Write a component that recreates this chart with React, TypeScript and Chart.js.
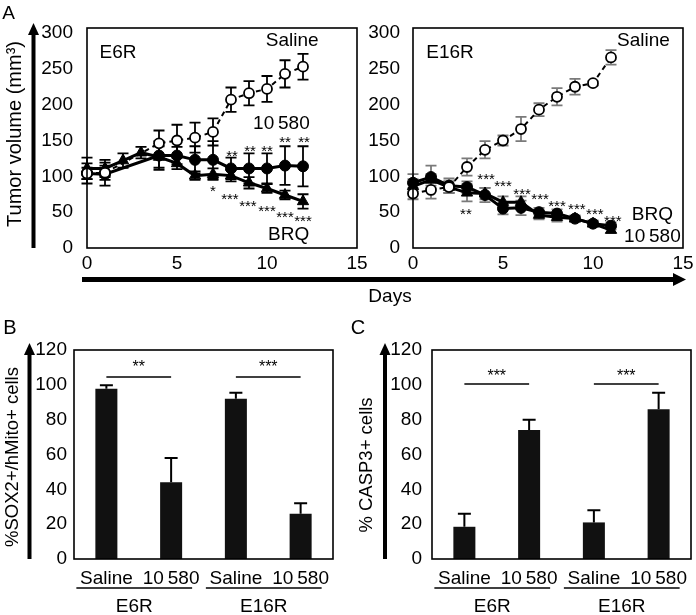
import React, { useEffect, useRef } from "react";
import { Chart, registerables } from "chart.js";

Chart.register(...registerables);

const FONT = '"Liberation Sans", Arial, Helvetica, sans-serif';

// ---------------- Panel A : E6R ----------------
const e6rDays = [0, 1, 4, 5, 6, 7, 8, 9, 10, 11, 12];
const e6rBrqDays = [0, 1, 2, 3, 4, 5, 6, 7, 8, 9, 10, 11, 12];
const e6rSaline = [104, 105, 146, 150, 154, 162, 207, 216, 222, 243, 253];
const e6rSalineErr = [8, 10, 18, 22, 21, 19, 17, 17, 18, 19, 18];
const e6r10580 = [104, 103, 129, 129, 123, 123, 111, 111, 111, 115, 114];
const e6r10580Err = [14, 16, 20, 12, 19, 26, 15, 21, 21, 27, 28];
const e6rBrq = [111, 111, 122, 133, 127, 118, 101, 103, 101, 91, 83, 74, 65];
const e6rBrqErr = [15, 12, 10, 8, 15, 8, 6, 8, 8, 8, 6, 6, 10];

// ---------------- Panel A : E16R ----------------
const e16rDays = [0, 1, 2, 3, 4, 5, 6, 7, 8, 9, 10, 11];
const e16rSaline = [76, 81, 85, 113, 137, 150, 166, 193, 211, 225, 230, 266];
const e16rSalineErr = [8, 12, 8, 12, 12, 7, 17, 9, 12, 11, 3, 10];
const e16r10580 = [91, 99, 87, 85, 74, 55, 56, 50, 48, 41, 34, 31];
const e16r10580Err = [12, 16, 10, 8, 10, 8, 10, 6, 6, 4, 4, 5];
const e16rBrq = [86, 95, 85, 77, 76, 64, 64, 46, 43, 41, 34, 25];
const e16rBrqErr = [10, 8, 8, 12, 8, 8, 8, 6, 6, 4, 4, 4];

// ---------------- Axis ticks ----------------
const dayTicksMax = 15;
const volumeMax = 307;
const percentMax = 120;

// ---------------- Panel B / C ----------------
const barLabels = ["Saline", "10\u2009580", "Saline", "10\u2009580"];
const groupLabels = ["E6R", "E16R"];
const sox2Values = [97.7, 44, 92, 26];
const sox2Err = [2, 14, 3.5, 6];
const casp3Values = [18.5, 74, 21, 86];
const casp3Err = [7.5, 6, 7, 9.5];

// ---------------- Annotations (data units) ----------------
const e6rTexts = [
  { x: 1.72, y: 273, t: "E6R" },
  { x: 11.4, y: 289, t: "Saline" },
  { x: 10.8, y: 174, t: "10\u2009580" },
  { x: 11.2, y: 18, t: "BRQ" },
];
const e6rStars = [
  { x: 8.06, y: 134, t: "**" },
  { x: 9.06, y: 141, t: "**" },
  { x: 10, y: 141, t: "**" },
  { x: 11, y: 153, t: "**" },
  { x: 12.06, y: 153, t: "**" },
  { x: 7, y: 85, t: "*" },
  { x: 7.94, y: 74, t: "***" },
  { x: 8.94, y: 64, t: "***" },
  { x: 10, y: 57, t: "***" },
  { x: 11, y: 49, t: "***" },
  { x: 12, y: 43, t: "***" },
];
const e16rTexts = [
  { x: 2.06, y: 273, t: "E16R" },
  { x: 12.8, y: 289, t: "Saline" },
  { x: 13.3, y: 46, t: "BRQ" },
  { x: 13.3, y: 15, t: "10\u2009580" },
];
const e16rStars = [
  { x: 4.06, y: 102, t: "***" },
  { x: 5, y: 91, t: "***" },
  { x: 6.06, y: 80, t: "***" },
  { x: 7.06, y: 74, t: "***" },
  { x: 8, y: 64, t: "***" },
  { x: 9.1, y: 59, t: "***" },
  { x: 10.1, y: 52, t: "***" },
  { x: 11.1, y: 43, t: "***" },
  { x: 2.94, y: 53, t: "**" },
];
const sox2Sig = [
  { from: 0, to: 1, y: 104.5, ty: 112.5, t: "**" },
  { from: 2, to: 3, y: 104.5, ty: 112.5, t: "***" },
];
const casp3Sig = [
  { from: 0, to: 1, y: 100.5, ty: 107.5, t: "***" },
  { from: 2, to: 3, y: 100.5, ty: 107.5, t: "***" },
];

const pts = (days: number[], vals: number[]) => days.map((d, i) => ({ x: d, y: vals[i] }));

const decoPlugin = {
  id: "deco",
  beforeDatasetsDraw(chart: any) {
    const o = chart.options.plugins.deco;
    if (!o.errorsBefore) return;
    drawErrors(chart, o);
  },
  afterDatasetsDraw(chart: any) {
    const o = chart.options.plugins.deco;
    if (o.errorsBefore) return;
    drawErrors(chart, o);
  },
  afterDraw(chart: any) {
    const o = chart.options.plugins.deco;
    const ctx = chart.ctx;
    const { left, right, top, bottom } = chart.chartArea;
    const xs = chart.scales.x;
    const ys = chart.scales.y;
    ctx.save();
    // frame
    ctx.strokeStyle = "#000";
    ctx.lineWidth = 1.6;
    ctx.strokeRect(left, top, right - left, bottom - top);
    // text annotations
    ctx.fillStyle = "#000";
    (o.texts || []).forEach((a: any) => {
      ctx.font = `${o.textSize || 19}px ${FONT}`;
      ctx.textAlign = "center";
      ctx.textBaseline = "middle";
      ctx.fillText(a.t, xs.getPixelForValue(a.x), ys.getPixelForValue(a.y));
    });
    (o.stars || []).forEach((a: any) => {
      const s = o.starSize || 15;
      ctx.font = `${s}px ${FONT}`;
      ctx.textAlign = "center";
      ctx.textBaseline = "alphabetic";
      ctx.fillText(a.t, xs.getPixelForValue(a.x), ys.getPixelForValue(a.y) + 0.58 * s);
    });
    // significance bars (bar charts)
    (o.sig || []).forEach((a: any) => {
      const x1 = xs.getPixelForValue(a.from);
      const x2 = xs.getPixelForValue(a.to);
      const y = ys.getPixelForValue(a.y);
      ctx.lineWidth = 1.6;
      ctx.beginPath();
      ctx.moveTo(x1, y);
      ctx.lineTo(x2, y);
      ctx.stroke();
      const s = o.starSize || 16;
      ctx.font = `${s}px ${FONT}`;
      ctx.textAlign = "center";
      ctx.textBaseline = "alphabetic";
      ctx.fillText(a.t, (x1 + x2) / 2, ys.getPixelForValue(a.ty) + 0.58 * s);
    });
    // group underlines
    if (o.groups) {
      o.groups.forEach((g: string, gi: number) => {
        const x1 = xs.getPixelForValue(gi * 2) - 30;
        const x2 = xs.getPixelForValue(gi * 2 + 1) + 21;
        ctx.lineWidth = 1.4;
        ctx.beginPath();
        ctx.moveTo(x1, bottom + 29);
        ctx.lineTo(x2, bottom + 29);
        ctx.stroke();
        ctx.font = `19px ${FONT}`;
        ctx.textAlign = "center";
        ctx.textBaseline = "middle";
        ctx.fillText(g, (x1 + x2) / 2, bottom + 48);
      });
    }
    // vertical arrow + axis title
    if (o.arrowX != null) {
      const ax = o.arrowX;
      const tip = top - o.arrowAbove;
      ctx.lineWidth = 4;
      ctx.beginPath();
      ctx.moveTo(ax, bottom);
      ctx.lineTo(ax, tip + 8);
      ctx.stroke();
      ctx.beginPath();
      ctx.moveTo(ax, tip);
      ctx.lineTo(ax - 5.5, tip + 12);
      ctx.lineTo(ax + 5.5, tip + 12);
      ctx.closePath();
      ctx.fill();
    }
    if (o.title) {
      ctx.translate(o.titleX, o.titleY);
      ctx.rotate(-Math.PI / 2);
      ctx.font = `${o.titleSize}px ${FONT}`;
      ctx.textAlign = "center";
      ctx.textBaseline = "middle";
      ctx.fillText(o.title, 0, 0);
    }
    ctx.restore();
  },
};

function drawErrors(chart: any, o: any) {
  const ctx = chart.ctx;
  const ys = chart.scales.y;
  ctx.save();
  ctx.strokeStyle = o.errColor;
  ctx.lineWidth = o.errWidth || 2;
  chart.data.datasets.forEach((ds: any, di: number) => {
    const errs = ds.errors;
    if (!errs) return;
    const meta = chart.getDatasetMeta(di);
    meta.data.forEach((el: any, i: number) => {
      const raw = ds.data[i];
      const v = typeof raw === "number" ? raw : raw.y;
      const e = errs[i];
      const x = el.x;
      const yTop = ys.getPixelForValue(v + e);
      const yBot = o.upperOnly ? ys.getPixelForValue(v) : ys.getPixelForValue(v - e);
      const cap = o.cap || 5.5;
      ctx.beginPath();
      ctx.moveTo(x, yTop);
      ctx.lineTo(x, yBot);
      ctx.moveTo(x - cap, yTop);
      ctx.lineTo(x + cap, yTop);
      if (!o.upperOnly) {
        ctx.moveTo(x - cap, yBot);
        ctx.lineTo(x + cap, yBot);
      }
      ctx.stroke();
    });
  });
  ctx.restore();
}

const tickFont = { family: FONT, size: 19 };

function lineConfig(p: any) {
  const salineStyle = {
    borderColor: "#000",
    borderWidth: 2,
    borderDash: [5, 4],
    pointStyle: "circle",
    pointRadius: 5,
    pointBackgroundColor: "#fff",
    pointBorderColor: "#000",
    pointBorderWidth: 1.8,
    clip: false,
  };
  const solidStyle = {
    borderColor: "#000",
    borderWidth: 3,
    pointBackgroundColor: "#000",
    pointBorderColor: "#000",
    pointBorderWidth: 1,
    clip: false,
  };
  return {
    type: "line",
    data: {
      datasets: [
        { label: "Saline", data: pts(p.salineDays, p.saline), errors: p.salineErr, ...salineStyle },
        { label: "10580", data: pts(p.cDays, p.c), errors: p.cErr, ...solidStyle, pointStyle: "circle", pointRadius: 5.5 },
        { label: "BRQ", data: pts(p.bDays, p.b), errors: p.bErr, ...solidStyle, pointStyle: "triangle", pointRadius: 6.5 },
      ],
    },
    options: {
      animation: false,
      responsive: false,
      events: [],
      layout: { padding: { left: 0, top: 28, right: p.padRight, bottom: 0 }, autoPadding: false },
      scales: {
        x: {
          type: "linear",
          min: 0,
          max: dayTicksMax,
          ticks: { stepSize: 5, font: tickFont, color: "#000", padding: 4, maxRotation: 0 },
          grid: { display: false, drawTicks: false },
          border: { display: false },
          afterFit: (s: any) => {
            s.height = 27;
            s.paddingLeft = 0;
            s.paddingRight = 0;
          },
        },
        y: {
          min: 0,
          max: volumeMax,
          ticks: { stepSize: 50, includeBounds: false, font: tickFont, color: "#000", padding: p.tickPad },
          grid: { display: false, drawTicks: false },
          border: { display: false },
          afterFit: (s: any) => {
            s.width = p.yW;
            s.paddingTop = 0;
            s.paddingBottom = 0;
          },
        },
      },
      plugins: {
        legend: { display: false },
        tooltip: { enabled: false },
        deco: {
          errorsBefore: true,
          errColor: p.errColor,
          errWidth: 1.8,
          cap: 5.5,
          texts: p.texts,
          stars: p.stars,
          starSize: 15,
          arrowX: p.arrowX,
          arrowAbove: 5,
          title: p.title,
          titleX: p.titleX,
          titleY: p.titleY,
          titleSize: 20,
        },
      },
    },
    plugins: [decoPlugin],
  };
}

function barConfig(p: any) {
  return {
    type: "bar",
    data: {
      labels: barLabels,
      datasets: [
        {
          data: p.values,
          errors: p.errors,
          backgroundColor: "#111",
          borderWidth: 0,
          barPercentage: 0.34,
          categoryPercentage: 1,
        },
      ],
    },
    options: {
      animation: false,
      responsive: false,
      events: [],
      layout: { padding: { left: 0, top: 32, right: p.padRight, bottom: 0 }, autoPadding: false },
      scales: {
        x: {
          ticks: { font: tickFont, color: "#000", padding: 8, maxRotation: 0, autoSkip: false },
          grid: { display: false, drawTicks: false },
          border: { display: false },
          afterFit: (s: any) => {
            s.height = 56;
            s.paddingLeft = 0;
            s.paddingRight = 0;
          },
        },
        y: {
          min: 0,
          max: percentMax,
          ticks: { stepSize: 20, font: tickFont, color: "#000", padding: p.tickPad },
          grid: { display: false, drawTicks: false },
          border: { display: false },
          afterFit: (s: any) => {
            s.width = p.yW;
            s.paddingTop = 0;
            s.paddingBottom = 0;
          },
        },
      },
      plugins: {
        legend: { display: false },
        tooltip: { enabled: false },
        deco: {
          errorsBefore: false,
          upperOnly: true,
          errColor: "#000",
          errWidth: 2,
          cap: 6.5,
          sig: p.sig,
          starSize: 16,
          groups: groupLabels,
          arrowX: p.arrowX,
          arrowAbove: 7,
          title: p.title,
          titleX: p.titleX,
          titleY: p.titleY,
          titleSize: 18.5,
        },
      },
    },
    plugins: [decoPlugin],
  };
}

function ChartCanvas({ make, left, top, width, height }: any) {
  const ref = useRef<HTMLCanvasElement>(null);
  useEffect(() => {
    const chart = new Chart(ref.current as HTMLCanvasElement, make() as any);
    return () => chart.destroy();
  }, []);
  return (
    <canvas
      ref={ref}
      width={width}
      height={height}
      style={{ position: "absolute", left, top, width, height }}
    />
  );
}

export default function App() {
  return (
    <div
      style={{
        position: "absolute",
        left: 0,
        top: 0,
        width: 696,
        height: 615,
        background: "#fff",
        overflow: "hidden",
      }}
    >
      <ChartCanvas
        left={0}
        top={0}
        width={372}
        height={275}
        make={() =>
          lineConfig({
            salineDays: e6rDays,
            saline: e6rSaline,
            salineErr: e6rSalineErr,
            cDays: e6rDays,
            c: e6r10580,
            cErr: e6r10580Err,
            bDays: e6rBrqDays,
            b: e6rBrq,
            bErr: e6rBrqErr,
            errColor: "#000",
            texts: e6rTexts,
            stars: e6rStars,
            yW: 87,
            padRight: 15,
            tickPad: 14,
            arrowX: 33.5,
            title: "Tumor volume (mm\u00B3)",
            titleX: 15,
            titleY: 134,
          })
        }
      />
      <ChartCanvas
        left={340}
        top={0}
        width={356}
        height={275}
        make={() =>
          lineConfig({
            salineDays: e16rDays,
            saline: e16rSaline,
            salineErr: e16rSalineErr,
            cDays: e16rDays,
            c: e16r10580,
            cErr: e16r10580Err,
            bDays: e16rDays,
            b: e16rBrq,
            bErr: e16rBrqErr,
            errColor: "#7a7a7a",
            texts: e16rTexts,
            stars: e16rStars,
            yW: 73,
            padRight: 13,
            tickPad: 13,
            arrowX: null,
            title: null,
          })
        }
      />
      <ChartCanvas
        left={0}
        top={318}
        width={345}
        height={297}
        make={() =>
          barConfig({
            values: sox2Values,
            errors: sox2Err,
            sig: sox2Sig,
            yW: 74,
            padRight: 12,
            tickPad: 7,
            arrowX: 29.5,
            title: "%SOX2+/hMito+ cells",
            titleX: 12.5,
            titleY: 139,
          })
        }
      />
      <ChartCanvas
        left={350}
        top={318}
        width={346}
        height={297}
        make={() =>
          barConfig({
            values: casp3Values,
            errors: casp3Err,
            sig: casp3Sig,
            yW: 82,
            padRight: 5,
            tickPad: 10,
            arrowX: 35,
            title: "% CASP3+ cells",
            titleX: 16.5,
            titleY: 147,
          })
        }
      />
      <svg
        width={696}
        height={615}
        style={{ position: "absolute", left: 0, top: 0, pointerEvents: "none" }}
      >
        <line x1={82} y1={279.5} x2={676} y2={279.5} stroke="#000" strokeWidth={5} />
        <polygon points="686,279.5 673,273 673,286" fill="#000" />
        <text x={390} y={295} textAnchor="middle" dominantBaseline="central" fontSize={19} fontFamily={FONT}>
          Days
        </text>
        <text x={8.5} y={12} textAnchor="middle" dominantBaseline="central" fontSize={19} fontFamily={FONT}>
          A
        </text>
        <text x={10} y={327} textAnchor="middle" dominantBaseline="central" fontSize={20} fontFamily={FONT}>
          B
        </text>
        <text x={358} y={327} textAnchor="middle" dominantBaseline="central" fontSize={20} fontFamily={FONT}>
          C
        </text>
      </svg>
    </div>
  );
}
